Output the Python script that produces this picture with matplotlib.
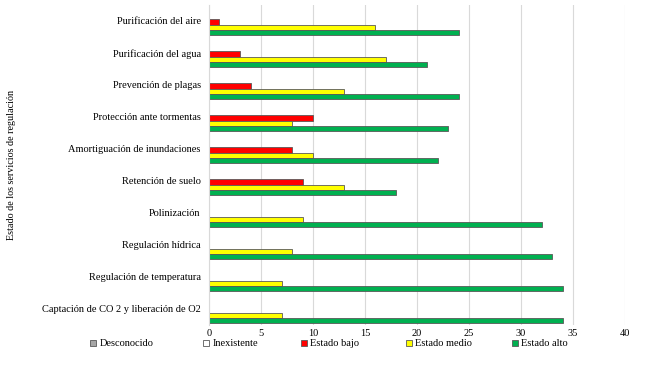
import numpy as np
import matplotlib.pyplot as plt

plt.rcParams['font.family'] = ['Liberation Serif', 'DejaVu Serif']

servicios = ['Purificación del aire', 'Purificación del agua', 'Prevención de plagas',
             'Protección ante tormentas', 'Amortiguación de inundaciones', 'Retención de suelo',
             'Polinización', 'Regulación hídrica', 'Regulación de temperatura',
             'Captación de CO 2 y liberación de O2']
series = ['Desconocido', 'Inexistente', 'Estado bajo', 'Estado medio', 'Estado alto']
desconocido = [0, 0, 0, 0, 0, 0, 0, 0, 0, 0]
inexistente = [0, 0, 0, 0, 0, 0, 0, 0, 0, 0]
bajo = [1, 3, 4, 10, 8, 9, 0, 0, 0, 0]
medio = [16, 17, 13, 8, 10, 13, 9, 8, 7, 7]
alto = [24, 21, 24, 23, 22, 18, 32, 33, 34, 34]
colores = ['#a6a6a6', '#ffffff', '#ff0000', '#ffff00', '#00b050']
xticks = [0, 5, 10, 15, 20, 25, 30, 35, 40]

fig = plt.figure(figsize=(6.5, 3.66), dpi=100)
ax = fig.add_axes([209/650, 1-325/366, 416/650, 320/366])

y = np.arange(len(servicios))
h = 0.165
handles = []
for i, (nombre, vals, c) in enumerate(zip(series, [desconocido, inexistente, bajo, medio, alto], colores)):
    b = ax.barh(y + (i - 2) * h + 0.03, vals, height=h, color=c, edgecolor='#595959', linewidth=0.6, label=nombre)
    handles.append(b)

ax.set_ylim(len(servicios) - 0.5, -0.5)
ax.set_xlim(0, 40)
ax.set_xticks(xticks)
ax.set_yticks(y)
ax.set_yticklabels(servicios, fontsize=7.5)
ax.tick_params(axis='x', labelsize=7.5, length=0, pad=3)
ax.tick_params(axis='y', length=0, pad=6)
ax.grid(axis='x', color='#d9d9d9', linewidth=0.8)
ax.set_axisbelow(True)
for s in ['top', 'right', 'bottom']:
    ax.spines[s].set_visible(False)
ax.spines['left'].set_color('#d9d9d9')

fig.text(12/650, 1-165/366, 'Estado de los servicios de regulación', rotation=90,
         va='center', ha='center', fontsize=7.3)

# legend entries placed one by one, as Excel spaces them
leg_x = [90, 203, 301, 406, 512]
for hd, nombre, lx in zip(handles, series, leg_x):
    fig.legend(handles=[hd], labels=[nombre], loc='center left', bbox_to_anchor=(lx/650, 1-344/366),
               frameon=False, fontsize=7.5, handlelength=0.6, handleheight=0.6, handletextpad=0.3,
               borderpad=0, borderaxespad=0)

fig.savefig('out.png', dpi=100)
